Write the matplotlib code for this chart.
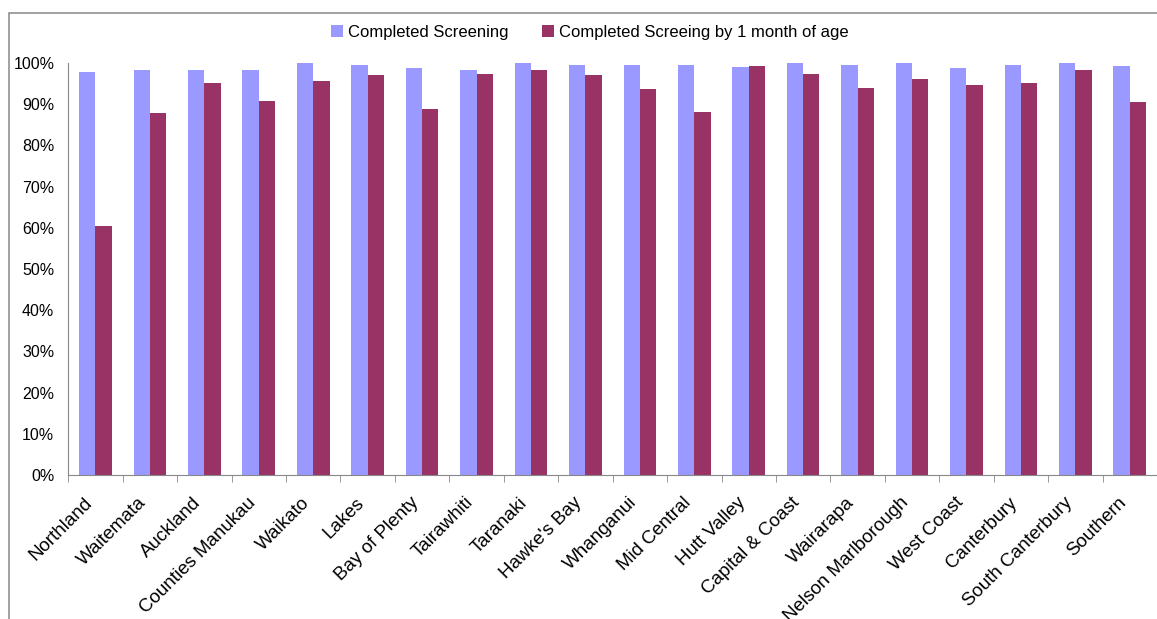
import numpy as np
import matplotlib.pyplot as plt
from matplotlib.patches import Rectangle
from matplotlib.ticker import PercentFormatter
from matplotlib.transforms import ScaledTranslation

# --- Datos por DHB ---
dhbs = ['Northland', 'Waitemata', 'Auckland', 'Counties Manukau', 'Waikato',
        'Lakes', 'Bay of Plenty', 'Tairawhiti', 'Taranaki', "Hawke's Bay",
        'Whanganui', 'Mid Central', 'Hutt Valley', 'Capital & Coast', 'Wairarapa',
        'Nelson Marlborough', 'West Coast', 'Canterbury', 'South Canterbury', 'Southern']
completed = [97.8, 98.3, 98.3, 98.3, 100.0, 99.5, 98.8, 98.3, 100.0, 99.5,
             99.5, 99.5, 99.0, 100.0, 99.5, 100.0, 98.8, 99.5, 100.0, 99.3]
by_1_month = [60.4, 87.9, 95.1, 90.8, 95.6, 97.1, 88.8, 97.3, 98.3, 97.1,
              93.7, 88.1, 99.3, 97.3, 93.9, 96.1, 94.7, 95.1, 98.3, 90.5]

plt.rcParams['font.family'] = ['Liberation Sans', 'DejaVu Sans']

fig = plt.figure(figsize=(11.57, 6.19), dpi=100)
ax = fig.add_axes([0.059, 0.2326, 0.941, 0.6656])

x = np.arange(len(dhbs))
w = 0.3
ax.bar(x - w / 2, completed, width=w, color='#9999FF', label='Completed Screening')
ax.bar(x + w / 2, by_1_month, width=w, color='#993366',
       label='Completed Screeing by 1 month of age')

ax.set_xlim(-0.5, len(dhbs) - 0.5)
ax.set_ylim(0, 100)
ax.set_yticks(np.arange(0, 101, 10))
ax.yaxis.set_major_formatter(PercentFormatter(decimals=0))
ax.tick_params(axis='y', length=0, pad=10, labelsize=11.5)

# etiquetas centradas, marcas en los bordes de cada categoría
ax.set_xticks(x)
ax.set_xticklabels(dhbs, rotation=45, ha='right', rotation_mode='anchor', fontsize=13.5)
ax.tick_params(axis='x', which='major', length=0, pad=8)
shift = ScaledTranslation(-12 / 100, -8 / 100, fig.dpi_scale_trans)
for lbl in ax.get_xticklabels():
    lbl.set_transform(lbl.get_transform() + shift)
ax.set_xticks(np.arange(-0.5, len(dhbs)), minor=True)
ax.tick_params(axis='x', which='minor', length=5, color='#888888')

for s in ['top', 'right']:
    ax.spines[s].set_visible(False)
for s in ['left', 'bottom']:
    ax.spines[s].set_color('#888888')

ax.legend(loc='center', bbox_to_anchor=(0.479, 1.075), ncol=2, frameon=False,
          fontsize=12, handlelength=0.75, handleheight=0.75, handletextpad=0.3,
          columnspacing=2.0)

# marco exterior del gráfico
fig.patches.append(Rectangle((0.0078, -0.1), 1.2, 1.0785, transform=fig.transFigure,
                             fill=False, edgecolor='#888888', linewidth=1.1))

fig.savefig('out.png', dpi=100)
